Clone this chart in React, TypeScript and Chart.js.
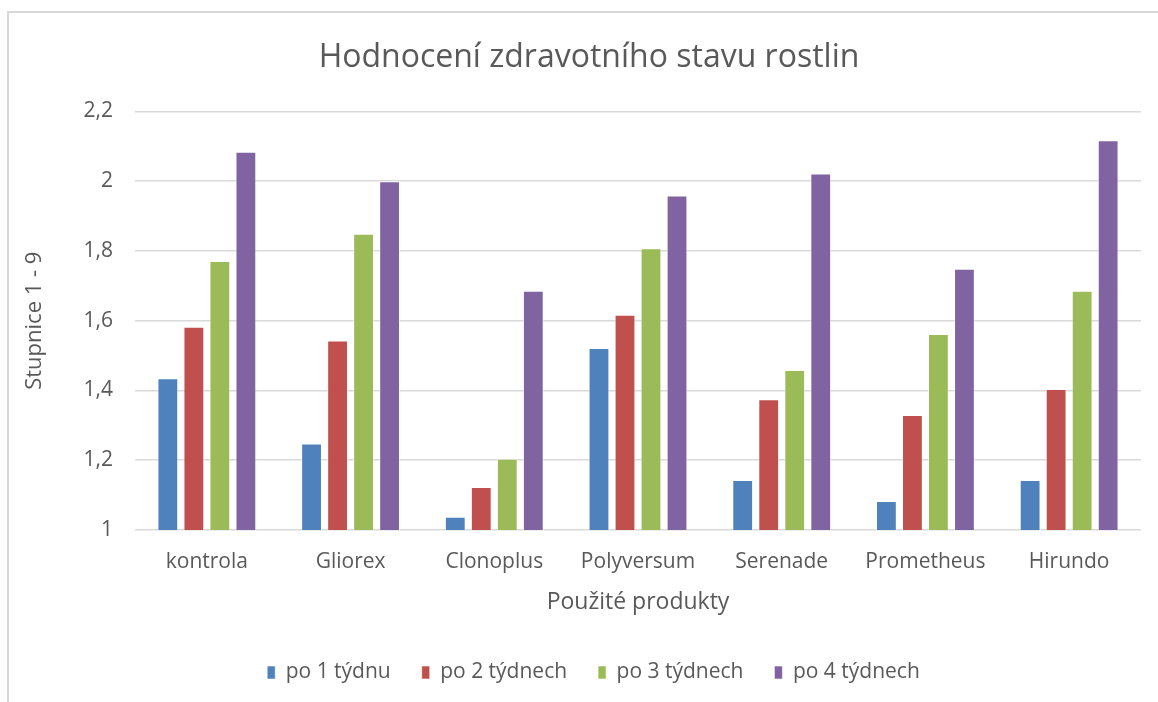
import React, { useEffect, useRef } from "react";
import { Chart, registerables } from "chart.js";

Chart.register(...registerables);

const categories = ["kontrola", "Gliorex", "Clonoplus", "Polyversum", "Serenade", "Prometheus", "Hirundo"];
const seriesNames = ["po 1 týdnu", "po 2 týdnech", "po 3 týdnech", "po 4 týdnech"];
const week1 = [1.435, 1.248, 1.038, 1.522, 1.143, 1.083, 1.143];
const week2 = [1.583, 1.543, 1.123, 1.617, 1.375, 1.33, 1.404];
const week3 = [1.771, 1.849, 1.204, 1.808, 1.459, 1.562, 1.686];
const week4 = [2.084, 2.0, 1.686, 1.959, 2.022, 1.749, 2.117];
const seriesColors = ["#4F81BD", "#C0504D", "#9BBB59", "#8064A2"];
const yMin = 1;
const yMax = 2.2;
const yStep = 0.2;

const FONT = "'Open Sans', 'Noto Sans', sans-serif";

const shiftBlocks = {
  id: "shiftBlocks",
  afterLayout(chart: any) {
    if (chart.titleBlock) chart.titleBlock.left = 37;
    if (chart.legend) chart.legend.left = chart.legend.left + 36;
  },
};

export default function App() {
  const ref = useRef<HTMLCanvasElement | null>(null);

  useEffect(() => {
    if (!ref.current) return;
    const values = [week1, week2, week3, week4];
    const chart = new Chart(ref.current, {
      type: "bar",
      data: {
        labels: categories,
        datasets: values.map((v, i) => ({
          label: seriesNames[i],
          data: v,
          backgroundColor: seriesColors[i],
          borderColor: "rgba(255,255,255,0.55)",
          borderWidth: 1,
          categoryPercentage: 0.724,
          barPercentage: 0.8,
        })),
      },
      plugins: [shiftBlocks],
      options: {
        animation: false,
        responsive: false,
        maintainAspectRatio: false,
        layout: { padding: { left: 10, right: 17, top: 0, bottom: 9 } },
        plugins: {
          title: {
            display: true,
            text: "Hodnocení zdravotního stavu rostlin",
            color: "#595959",
            font: { family: FONT, size: 32, weight: "normal", lineHeight: 1.2 },
            padding: { top: 39, bottom: 34 },
          },
          legend: {
            position: "bottom",
            labels: {
              color: "#595959",
              font: { family: FONT, size: 21 },
              boxWidth: 8,
              boxHeight: 13,
              padding: 31,
            },
          },
          tooltip: { enabled: false },
        },
        scales: {
          x: {
            grid: { display: false, drawTicks: false },
            border: { display: false },
            ticks: { color: "#595959", font: { family: FONT, size: 21 }, padding: 19 },
            title: {
              display: true,
              text: "Použité produkty",
              color: "#595959",
              font: { family: FONT, size: 23, lineHeight: 1.2 },
              padding: { top: 4, bottom: 15 },
            },
            afterFit: (s: any) => {
              s.height = 101;
            },
          },
          y: {
            min: yMin,
            max: yMax,
            grid: { color: "#d9d9d9", lineWidth: 1.6, drawTicks: false },
            border: { display: false },
            ticks: {
              stepSize: yStep,
              color: "#595959",
              font: { family: FONT, size: 21 },
              padding: 22,
              callback: (v: any) => String(Number(Number(v).toFixed(1))).replace(".", ","),
            },
            title: {
              display: true,
              text: "Stupnice 1 - 9",
              color: "#595959",
              font: { family: FONT, size: 22, lineHeight: 1.2 },
              padding: { top: 12, bottom: 0 },
            },
            afterFit: (s: any) => {
              s.width = 125;
            },
          },
        },
      },
    });
    return () => chart.destroy();
  }, []);

  return (
    <div style={{ position: "fixed", left: 0, top: 0, width: 1158, height: 702, background: "#fff" }}>
      <div
        style={{
          position: "absolute",
          left: 7,
          top: 11,
          width: 1158,
          height: 702,
          borderTop: "2px solid #d9d9d9",
          borderLeft: "2px solid #d9d9d9",
        }}
      />
      <canvas ref={ref} width={1158} height={702} style={{ position: "absolute", left: 0, top: 0 }} />
    </div>
  );
}
